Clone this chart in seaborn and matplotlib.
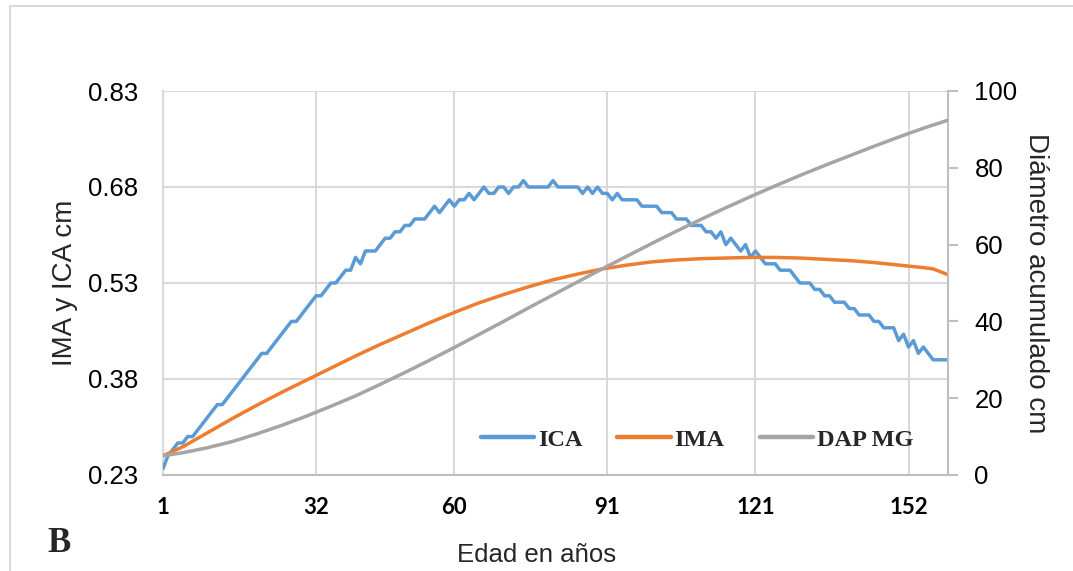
import matplotlib
matplotlib.use("Agg")
import matplotlib.pyplot as plt
import seaborn as sns
import pandas as pd
from matplotlib.lines import Line2D

# ---------------- data ----------------
ages = list(range(1, 161))
ica = [0.24, 0.26, 0.27, 0.28, 0.28, 0.29, 0.29, 0.30, 0.31, 0.32,
       0.33, 0.34, 0.34, 0.35, 0.36, 0.37, 0.38, 0.39, 0.40, 0.41,
       0.42, 0.42, 0.43, 0.44, 0.45, 0.46, 0.47, 0.47, 0.48, 0.49,
       0.50, 0.51, 0.51, 0.52, 0.53, 0.53, 0.54, 0.55, 0.55, 0.57,
       0.56, 0.58, 0.58, 0.58, 0.59, 0.60, 0.60, 0.61, 0.61, 0.62,
       0.62, 0.63, 0.63, 0.63, 0.64, 0.65, 0.64, 0.65, 0.66, 0.65,
       0.66, 0.66, 0.67, 0.66, 0.67, 0.68, 0.67, 0.67, 0.68, 0.68,
       0.67, 0.68, 0.68, 0.69, 0.68, 0.68, 0.68, 0.68, 0.68, 0.69,
       0.68, 0.68, 0.68, 0.68, 0.68, 0.67, 0.68, 0.67, 0.68, 0.67,
       0.67, 0.66, 0.67, 0.66, 0.66, 0.66, 0.66, 0.65, 0.65, 0.65,
       0.65, 0.64, 0.64, 0.64, 0.63, 0.63, 0.63, 0.62, 0.62, 0.62,
       0.61, 0.61, 0.60, 0.61, 0.59, 0.60, 0.59, 0.58, 0.59, 0.57,
       0.58, 0.57, 0.56, 0.56, 0.56, 0.55, 0.55, 0.55, 0.54, 0.53,
       0.53, 0.53, 0.52, 0.52, 0.51, 0.51, 0.50, 0.50, 0.50, 0.49,
       0.49, 0.48, 0.48, 0.48, 0.47, 0.47, 0.46, 0.46, 0.46, 0.44,
       0.45, 0.43, 0.44, 0.42, 0.43, 0.42, 0.41, 0.41, 0.41, 0.41]

ima_ages = [1, 5, 10, 15, 20, 25, 30, 35, 40, 45, 50, 55, 60, 65, 70, 75, 80,
            85, 90, 95, 100, 105, 110, 115, 120, 125, 130, 135, 140, 145,
            150, 155, 157, 160]
ima = [0.260, 0.274, 0.296, 0.318, 0.339, 0.359, 0.378, 0.397, 0.416, 0.434,
       0.451, 0.468, 0.484, 0.499, 0.512, 0.524, 0.535, 0.544, 0.552, 0.558,
       0.563, 0.566, 0.568, 0.569, 0.570, 0.570, 0.569, 0.567, 0.565, 0.562,
       0.558, 0.554, 0.552, 0.543]

dap_ages = [1, 5, 10, 15, 20, 25, 30, 35, 40, 45, 50, 55, 60, 65, 70, 75, 80,
            85, 90, 95, 100, 105, 110, 115, 120, 125, 130, 135, 140, 145,
            150, 155, 160]
dap = [5.0, 5.8, 7.1, 8.7, 10.7, 12.9, 15.3, 17.9, 20.6, 23.6, 26.7, 29.9,
       33.2, 36.6, 40.0, 43.5, 46.9, 50.3, 53.7, 57.0, 60.3, 63.5, 66.6, 69.6,
       72.5, 75.3, 78.0, 80.6, 83.1, 85.6, 88.0, 90.3, 92.4]

x_ticks = [1, 32, 60, 91, 121, 152]
left_ticks = [0.23, 0.38, 0.53, 0.68, 0.83]
right_ticks = [0, 20, 40, 60, 80, 100]

series_names = ["ICA", "IMA", "DAP MG"]
colors = ["#5B9BD5", "#ED7D31", "#A5A5A5"]

df_ica = pd.DataFrame({"age": ages, "val": ica})
df_ima = pd.DataFrame({"age": ima_ages, "val": ima})
df_dap = pd.DataFrame({"age": dap_ages, "val": dap})

# ---------------- style ----------------
sns.set_theme(style="white")
plt.rcParams["font.family"] = ["Liberation Sans", "DejaVu Sans"]

W, H = 1073, 571
fig = plt.figure(figsize=(W / 100, H / 100), dpi=100)
L, R, T, B = 163, 948, 91, 475
ax = fig.add_axes([L / W, 1 - B / H, (R - L) / W, (B - T) / H])
ax2 = ax.twinx()

lw = 2.5
sns.lineplot(data=df_ica, x="age", y="val", ax=ax, color=colors[0], lw=lw,
             legend=False, zorder=3)
sns.lineplot(data=df_ima, x="age", y="val", ax=ax, color=colors[1], lw=lw,
             legend=False, zorder=3)
sns.lineplot(data=df_dap, x="age", y="val", ax=ax2, color=colors[2], lw=lw,
             legend=False, zorder=3)

ax.set_xlim(1, 160)
ax.set_ylim(0.23, 0.83)
ax2.set_ylim(0, 100)
ax.set_xticks(x_ticks)
ax.set_xticklabels([str(t) for t in x_ticks])
ax.set_yticks(left_ticks)
ax.set_yticklabels([f"{t:.2f}" for t in left_ticks])
ax2.set_yticks(right_ticks)
ax2.set_yticklabels([str(t) for t in right_ticks])

ax.set_xlabel("")
ax.set_ylabel("")
ax2.set_ylabel("")

grid_c = "#D9D9D9"
ax.grid(True, color=grid_c, lw=1.5)
ax.set_axisbelow(True)

for s in ["top", "right"]:
    ax.spines[s].set_visible(False)
ax.spines["left"].set_color(grid_c)
ax.spines["left"].set_linewidth(1.5)
ax.spines["bottom"].set_color("#BFBFBF")
ax.spines["bottom"].set_linewidth(1.5)
for s in ["top", "left", "bottom"]:
    ax2.spines[s].set_visible(False)
ax2.spines["right"].set_color("#BFBFBF")
ax2.spines["right"].set_linewidth(1.5)

ax.tick_params(axis="y", length=0, pad=18, labelsize=18.5, labelcolor="#000000")
ax.tick_params(axis="x", length=0, pad=16, labelcolor="#000000")
for lab in ax.get_xticklabels():
    lab.set_fontfamily(["Lato", "DejaVu Sans"])
    lab.set_fontweight("bold")
    lab.set_fontsize(16)
ax2.tick_params(axis="y", length=7, width=1.5, color="#BFBFBF", pad=12,
                labelsize=18.5, labelcolor="#000000")

# axis titles
fig.text(65 / W, 1 - 283 / H, "IMA y ICA cm", rotation=90, ha="center",
         va="center", fontsize=20)
fig.text(1036 / W, 1 - 283 / H, "Diámetro acumulado cm", rotation=270,
         ha="center", va="center", fontsize=20)
fig.text(537 / W, 1 - 562 / H, "Edad en años", ha="center", va="baseline",
         fontsize=18.5)
fig.text(47 / W, 1 - 552 / H, "B", ha="left", va="baseline", fontsize=25,
         fontweight="bold", family=["Liberation Serif", "DejaVu Serif"])

# legend
handles = [Line2D([0], [0], color=c, lw=3.2, solid_capstyle="round")
           for c in colors]
fig.legend(handles, series_names, loc="center",
           bbox_to_anchor=(697 / W, 1 - 440 / H), ncol=3, frameon=False,
           prop={"family": ["Liberation Serif", "DejaVu Serif"],
                 "weight": "bold", "size": 17.5},
           handlelength=2.2, handletextpad=0.15, columnspacing=1.45)

# chart-area border (left and top edges visible)
fig.add_artist(Line2D([9.5 / W, 9.5 / W], [0, 1 - 6 / H], color=grid_c,
                      lw=1.5, transform=fig.transFigure))
fig.add_artist(Line2D([9.5 / W, 1], [1 - 6 / H, 1 - 6 / H], color=grid_c,
                      lw=1.5, transform=fig.transFigure))

fig.savefig("out.png", dpi=100)
